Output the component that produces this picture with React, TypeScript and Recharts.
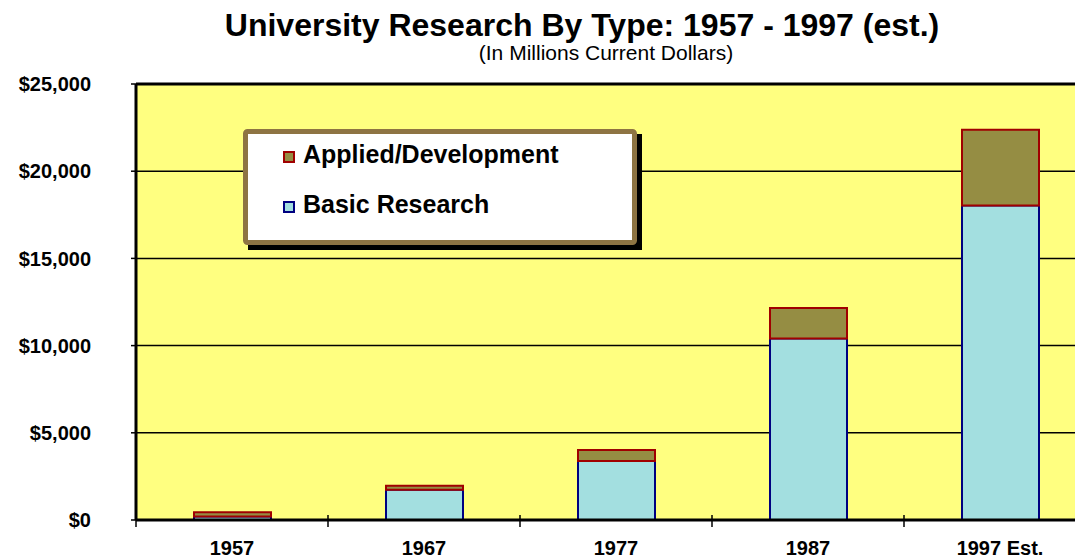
import React from 'react';
import { BarChart, Bar, XAxis, YAxis, CartesianGrid, ReferenceLine } from 'recharts';

const years = ['1957', '1967', '1977', '1987', '1997 Est.'];
const basicResearch = [200, 1730, 3380, 10400, 18040];
const appliedDevelopment = [250, 230, 640, 1750, 4330];
const yTicks = [0, 5000, 10000, 15000, 20000, 25000];

const data = years.map((year, i) => ({
  year,
  basic: basicResearch[i],
  applied: appliedDevelopment[i],
}));

const FONT = '"Liberation Sans", Arial, Helvetica, sans-serif';
const PLOT_BG = '#FFFF80';
const BASIC_FILL = '#A3DFE0';
const BASIC_STROKE = '#000080';
const APPLIED_FILL = '#958D43';
const APPLIED_STROKE = '#A00000';

const formatDollar = (v: number) => '$' + v.toLocaleString('en-US');

const XTick = (props: any) => {
  const { x, y, payload, index } = props;
  const half = payload.offset || 96;
  return (
    <g>
      {index === 0 && (
        <line x1={x - half} x2={x - half} y1={y - 5} y2={y + 7} stroke="#000" strokeWidth={1.5} />
      )}
      <line x1={x + half} x2={x + half} y1={y - 5} y2={y + 7} stroke="#000" strokeWidth={1.5} />
      <text
        x={x}
        y={y + 35}
        textAnchor="middle"
        fontFamily={FONT}
        fontWeight="bold"
        fontSize={20}
        fill="#000"
      >
        {payload.value}
      </text>
    </g>
  );
};

const App: React.FC = () => {
  return (
    <div style={{ position: 'relative', width: 1075, height: 551, overflow: 'hidden', background: '#fff' }}>
      <BarChart
        width={1100}
        height={551}
        data={data}
        margin={{ top: 76, right: 12, bottom: 0, left: 0 }}
        barSize={77}
      >
        <CartesianGrid
          vertical={false}
          stroke="#000"
          strokeWidth={1.5}
          fill={PLOT_BG}
          fillOpacity={1}
        />
        <XAxis
          dataKey="year"
          height={39}
          tickSize={0}
          tickMargin={0}
          tickLine={false}
          axisLine={{ stroke: '#000', strokeWidth: 3 }}
          tick={<XTick />}
          interval={0}
        />
        <YAxis
          width={128}
          domain={[0, 25000]}
          ticks={yTicks}
          tickFormatter={formatDollar}
          tickSize={5}
          tickMargin={40}
          tickLine={{ stroke: '#000', strokeWidth: 1.5 }}
          axisLine={{ stroke: '#000', strokeWidth: 3 }}
          tick={{ fill: '#000', fontSize: 20, fontWeight: 'bold', fontFamily: FONT }}
        />
        <ReferenceLine y={25000} stroke="#000" strokeWidth={3} />
        <Bar
          dataKey="basic"
          stackId="a"
          fill={BASIC_FILL}
          stroke={BASIC_STROKE}
          strokeWidth={2}
          isAnimationActive={false}
        />
        <Bar
          dataKey="applied"
          stackId="a"
          fill={APPLIED_FILL}
          stroke={APPLIED_STROKE}
          strokeWidth={2}
          isAnimationActive={false}
        />
      </BarChart>

      {/* title, subtitle and boxed legend */}
      <svg
        width={1075}
        height={551}
        style={{ position: 'absolute', left: 0, top: 0, pointerEvents: 'none' }}
      >
        <text x={574} y={28} textAnchor="middle" fontFamily={FONT} fontWeight="bold" fontSize={32} fill="#000">
          University Research By Type: 1957 - 1997 (est.)
        </text>
        <text x={598} y={52} textAnchor="middle" fontFamily={FONT} fontSize={21} fill="#000">
          (In Millions Current Dollars)
        </text>

        <rect x={240} y={126} width={394} height={116} fill="#000" />
        <rect x={237.5} y={123.5} width={389} height={111} fill="#fff" stroke="#8E7443" strokeWidth={5} rx={2} />

        <rect x={276} y={144} width={10} height={10} fill={APPLIED_FILL} stroke={APPLIED_STROKE} strokeWidth={2} />
        <text x={295} y={155} fontFamily={FONT} fontWeight="bold" fontSize={25} fill="#000">
          Applied/Development
        </text>
        <rect x={276} y={194} width={10} height={10} fill={BASIC_FILL} stroke={BASIC_STROKE} strokeWidth={2} />
        <text x={295} y={205} fontFamily={FONT} fontWeight="bold" fontSize={25} fill="#000">
          Basic Research
        </text>
      </svg>
    </div>
  );
};

export default App;
